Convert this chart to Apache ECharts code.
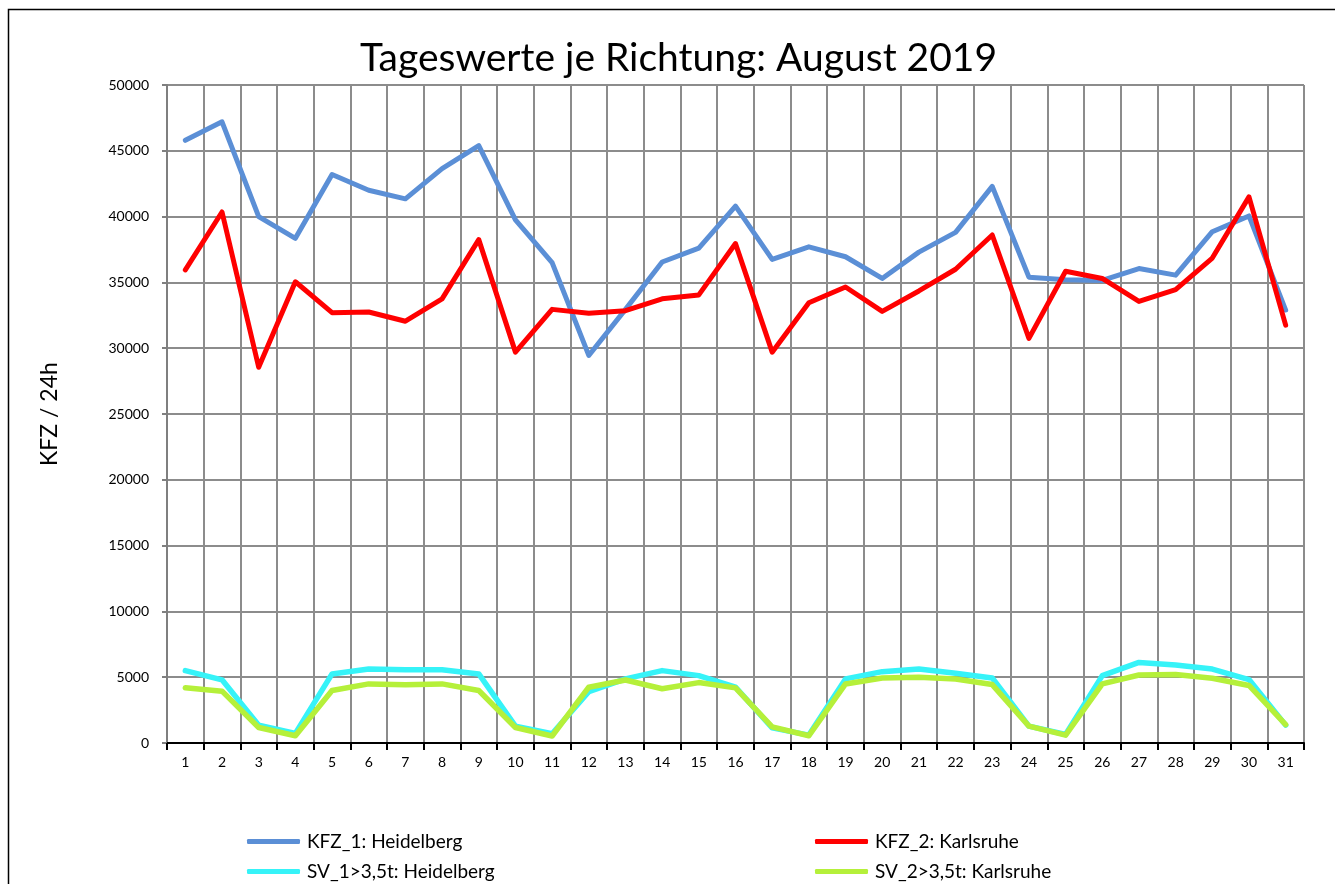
<!DOCTYPE html>
<html><head><meta charset="utf-8">
<script src="https://cdn.jsdelivr.net/npm/echarts@6/dist/echarts.min.js"></script>
<style>html,body{margin:0;padding:0;background:#fff}#c{width:1335px;height:884px}</style>
</head><body><div id="c"></div>
<script>
const days = ['1','2','3','4','5','6','7','8','9','10','11','12','13','14','15','16','17','18','19','20','21','22','23','24','25','26','27','28','29','30','31'];
const kfz1 = [45800,47200,40000,38350,43200,42000,41350,43650,45400,39750,36500,29450,32950,36550,37600,40800,36750,37700,36950,35300,37300,38800,42300,35400,35200,35150,36050,35550,38850,40050,32900];
const kfz2 = [35950,40350,28550,35050,32700,32750,32050,33750,38250,29700,32950,32650,32850,33750,34050,37950,29700,33450,34650,32800,34350,36000,38600,30750,35850,35300,33550,34450,36850,41500,31750];
const sv1 = [5500,4800,1350,730,5250,5620,5570,5570,5250,1280,700,3900,4870,5500,5120,4240,1150,600,4870,5420,5620,5300,4940,1280,650,5120,6120,5920,5620,4820,1360];
const sv2 = [4190,3940,1180,550,3990,4490,4420,4490,3990,1180,530,4240,4790,4120,4590,4190,1230,550,4490,4940,5000,4870,4440,1280,600,4490,5170,5200,4920,4370,1400];
const yTicks = [0,5000,10000,15000,20000,25000,30000,35000,40000,45000,50000];
const names = ['KFZ_1: Heidelberg','KFZ_2: Karlsruhe','SV_1>3,5t: Heidelberg','SV_2>3,5t: Karlsruhe'];
const colors = ['#5B8FD6','#FF0000','#36F3F8','#B5F03A'];
const FONT = 'Lato';
const chart = echarts.init(document.getElementById('c'), null, {renderer:'canvas'});
function lg(i, left, top){
  return {show:true, data:[names[i]], left:left, top:top, orient:'horizontal', icon:'roundRect',
    itemWidth:53, itemHeight:5, itemGap:0, padding:0, selectedMode:false,
    textStyle:{fontFamily:FONT, fontSize:19, color:'#000', padding:[0,0,0,2]}};
}
const mk = (i, data, w) => ({name:names[i], type:'line', data:data, showSymbol:false, symbol:'none',
  lineStyle:{color:colors[i], width:w, cap:'round', join:'round'}, itemStyle:{color:colors[i]}, z:2+i, animation:false});
chart.setOption({
  animation:false,
  backgroundColor:'#fff',
  title:{text:'Tageswerte je Richtung: August 2019', left:360, top:39, padding:0, textStyle:{fontFamily:FONT, fontSize:39, fontWeight:'normal', color:'#000'}},
  graphic:[{type:'rect', shape:{x:8.5, y:9.5, width:1340, height:900}, style:{fill:null, stroke:'#000', lineWidth:1.5}, silent:true}],
  legend:[lg(0,247,832), lg(1,815,832), lg(2,247,862), lg(3,815,862)],
  grid:{left:167, right:31, top:85, bottom:141, containLabel:false},
  xAxis:{type:'category', data:days, boundaryGap:true,
    axisLine:{show:true, lineStyle:{color:'#000', width:2}},
    axisTick:{show:true, alignWithLabel:false, length:7, lineStyle:{color:'#000', width:2}, interval:0},
    axisLabel:{interval:0, fontFamily:FONT, fontSize:14, color:'#000', margin:12},
    splitLine:{show:true, interval:0, lineStyle:{color:'#8C8C8C', width:2}}},
  yAxis:{type:'value', min:yTicks[0], max:yTicks[yTicks.length-1], interval:yTicks[1]-yTicks[0],
    name:'KFZ / 24h', nameLocation:'middle', nameGap:106, nameRotate:90,
    nameTextStyle:{fontFamily:FONT, fontSize:23, color:'#000'},
    axisLine:{show:true, lineStyle:{color:'#7F7F7F', width:2}},
    axisTick:{show:true, length:5, lineStyle:{color:'#7F7F7F', width:2}},
    axisLabel:{fontFamily:FONT, fontSize:14, color:'#000', margin:18, formatter:(v)=>String(v)},
    splitLine:{show:true, lineStyle:{color:'#8C8C8C', width:2}}},
  series:[mk(0,kfz1,5), mk(1,kfz2,5), mk(2,sv1,5.5), mk(3,sv2,5.5)]
});
</script></body></html>
